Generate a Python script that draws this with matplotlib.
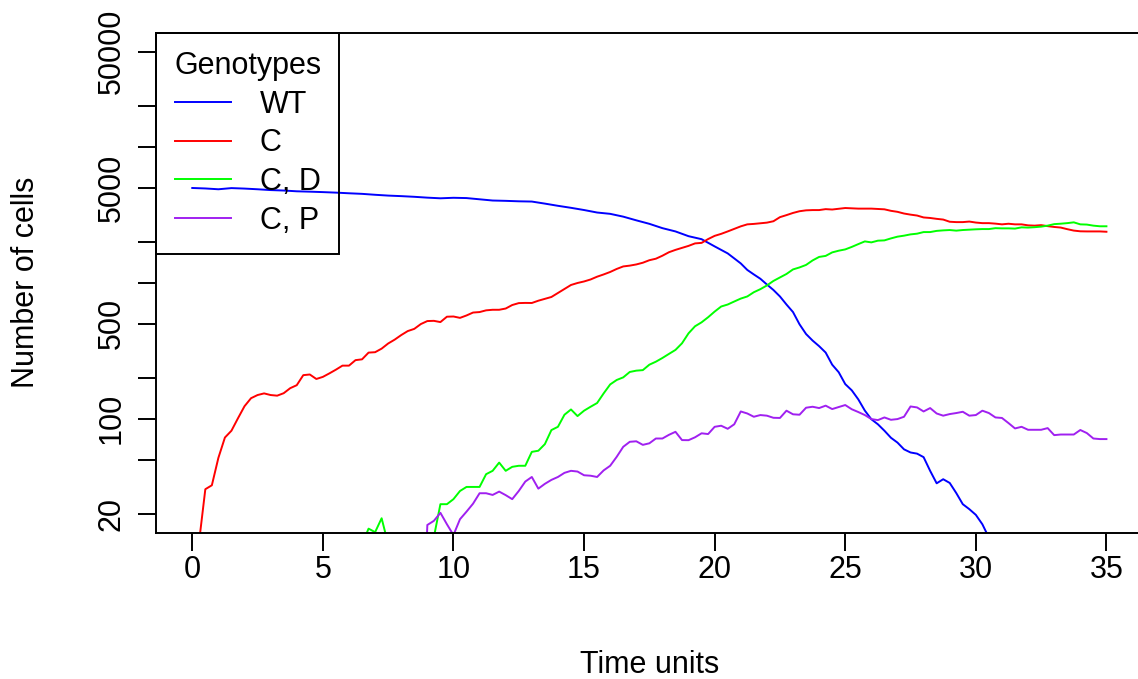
import numpy as np
import matplotlib
matplotlib.use("Agg")
import matplotlib.pyplot as plt

plt.rcParams['font.family'] = ['Liberation Sans', 'DejaVu Sans']

# ---------------- data ----------------
genotypes = ["WT", "C", "C, D", "C, P"]
colors = ["#0000FF", "#FF0000", "#00FF00", "#A020F0"]

time_wt = list(np.arange(0, 20.51, 0.5)) + list(np.arange(20.75, 30.51, 0.25))
wt = [4970, 4930, 4863, 4960, 4920, 4863, 4797, 4760, 4699, 4670, 4635, 4595,
      4544, 4500, 4430, 4370, 4330, 4281, 4220, 4174, 4210, 4190, 4104, 4020,
      3998, 3967, 3950, 3815, 3676, 3553, 3423, 3281, 3209, 3060, 2875, 2710,
      2519, 2383, 2199, 2090, 1850, 1643,
      1510, 1387, 1242, 1151, 1070, 971, 885, 793, 692, 609, 495, 420, 376,
      342, 307, 250, 220, 180, 162, 139, 115, 99.3, 91.2, 81.8, 72.6, 66.9,
      59.7, 56.6, 55.5, 52.3, 41.5, 33.6, 36, 33.8, 28.5, 23.6, 21.7, 19.7,
      16.8, 13.4]

time_c = np.arange(0.25, 35.001, 0.25)
c = [12, 30.4, 32.5, 51.7,
     72.9, 81.8, 101, 123.8,
     141.8, 149.6, 153.8, 149.6,
     148, 154.3, 168, 176.7,
     209.4, 211.8, 196.3, 203.4,
     215.8, 229.8, 246, 246,
     270, 273.7, 306.7, 308.8,
     328, 357.8, 382, 412.6,
     441.5, 458.2, 497, 523,
     525, 514, 563, 565,
     552, 575, 604, 609,
     627, 633, 633, 646.6,
     686, 708.6, 711, 710,
     738, 762, 786, 841,
     900, 963, 996, 1022,
     1057, 1108, 1151, 1200,
     1263, 1318, 1336, 1363,
     1403, 1464, 1502, 1580,
     1676, 1744, 1803, 1866,
     1946, 1963, 2094, 2211,
     2287, 2383, 2489, 2597,
     2686, 2706, 2733, 2765,
     2831, 3034, 3140, 3258,
     3354, 3405, 3420, 3420,
     3475, 3452, 3499, 3541,
     3524, 3505, 3505, 3505,
     3485, 3464, 3377, 3320,
     3226, 3166, 3118, 3019,
     2992, 2948, 2913, 2807,
     2790, 2790, 2816, 2769,
     2742, 2742, 2719, 2686,
     2714, 2686, 2686, 2641,
     2628, 2650, 2606, 2570,
     2544, 2476, 2417, 2388,
     2383, 2383, 2383, 2370]

time_cd = np.arange(6.5, 35.001, 0.25)
cd = [12, 15.6, 14.7,
      18.6, 12, 11, 10,
      10, 9, 10, 11,
      13.5, 23.6, 23.6, 25.7,
      29.5, 31.6, 31.6, 31.6,
      39.2, 41.5, 47.7, 41.5,
      44.4, 45.2, 45.2, 57.2,
      58.3, 65.2, 82.7, 87.4,
      107.2, 117.2, 104.8, 114.8,
      122.7, 130.7, 153.8, 179,
      193, 201.7, 221, 226,
      228, 250, 263, 280,
      300, 321, 359, 425,
      479, 512, 558, 614,
      669, 692, 728, 765,
      793, 852, 897, 955,
      1031, 1094, 1160, 1253,
      1296, 1352, 1459, 1548,
      1575, 1671, 1720, 1758,
      1834, 1923, 2013, 1980,
      2038, 2048, 2118, 2181,
      2218, 2267, 2294, 2357,
      2357, 2405, 2426, 2440,
      2415, 2440, 2455, 2470,
      2480, 2480, 2518, 2510,
      2510, 2500, 2553, 2543,
      2560, 2584, 2628, 2696,
      2716, 2742, 2779, 2686,
      2676, 2628, 2600, 2600]

time_cp = np.arange(8.75, 35.001, 0.25)
cp = [1, 16.6,
      17.8, 20.4, 16.8, 14,
      18.3, 20.8, 23.8, 28.4,
      28.4, 27.6, 29.2, 27.5,
      25.7, 29.5, 34.6, 37.4,
      30.7, 33.3, 35.6, 37.4,
      40.1, 41.5, 41, 38.5,
      38.2, 37.4, 41.8, 45.2,
      52.6, 62.3, 67.8, 68.4,
      64.4, 66.1, 71.7, 71.7,
      76.3, 80.3, 69.8, 69.7,
      73.2, 78.3, 77.3, 87.4,
      89, 84.5, 91.2, 113.3,
      109.5, 103.6, 106.6, 105.5,
      101.8, 101.5, 114.8, 108,
      107.2, 120.7, 122.7, 120,
      125, 118, 122.1, 126.3,
      117.6, 112.2, 106.6, 99.6,
      97.9, 102.4, 98.4, 99.6,
      103.6, 123.3, 121.3, 113.3,
      120, 109.5, 105.5, 108.4,
      110.3, 112.7, 105.5, 106.6,
      114.8, 110.3, 102.4, 101.5,
      93.1, 85, 87.4, 83.1,
      83.1, 83.1, 85.5, 75.9,
      76.7, 76.7, 76.7, 82.8,
      78.6, 71.7, 71, 71]

x_ticks = [0, 5, 10, 15, 20, 25, 30, 35]
y_ticks = [20, 50, 100, 200, 500, 1000, 2000, 5000, 10000, 20000, 50000]
y_ticklabels = ["20", "", "100", "", "500", "", "", "5000", "", "", "50000"]

# ---------------- figure ----------------
W, H = 1138, 679
fig = plt.figure(figsize=(W / 100, H / 100), dpi=100)
left, right, top, bottom = 155.7, 1143.0, 33.0, 532.5
ax = fig.add_axes([left / W, (H - bottom) / H, (right - left) / W, (bottom - top) / H])

LW = 1.4
series = [(time_wt, wt), (time_c, c), (time_cd, cd), (time_cp, cp)]
for (t, v), name, col in zip(series, genotypes, colors):
    assert len(t) == len(v), (name, len(t), len(v))
    ax.plot(t, v, color=col, lw=LW, label=name, solid_joinstyle='round')

ax.set_yscale('log')
ax.set_xlim(-1.4, 36.4)
pad = 10 ** 0.1362
ax.set_ylim(20 / pad, 50000 * pad)

ax.set_xticks(x_ticks)
ax.set_xticklabels([str(x) for x in x_ticks])
ax.yaxis.set_major_locator(matplotlib.ticker.FixedLocator(y_ticks))
ax.yaxis.set_minor_locator(matplotlib.ticker.NullLocator())
ax.set_yticklabels(y_ticklabels, rotation=90, va='center')

ax.tick_params(axis='both', which='major', direction='out', length=13,
               width=LW, labelsize=22, colors='black')
ax.tick_params(axis='x', pad=3)
ax.tick_params(axis='y', pad=8)
for s in ax.spines.values():
    s.set_linewidth(LW)
    s.set_color('black')

ax.set_xlabel("Time units", fontsize=22, labelpad=47)
ax.set_ylabel("Number of cells", fontsize=22, labelpad=40)

leg = ax.legend(loc='upper left', bbox_to_anchor=(0, 1), borderaxespad=0,
                frameon=True, fancybox=False, edgecolor='black',
                facecolor='none', framealpha=1, title="Genotypes",
                fontsize=22, title_fontsize=22, handlelength=1.86,
                handletextpad=0.93, labelspacing=0.28, borderpad=0.6)
leg.get_frame().set_linewidth(LW)

fig.savefig("out.png", dpi=100)
